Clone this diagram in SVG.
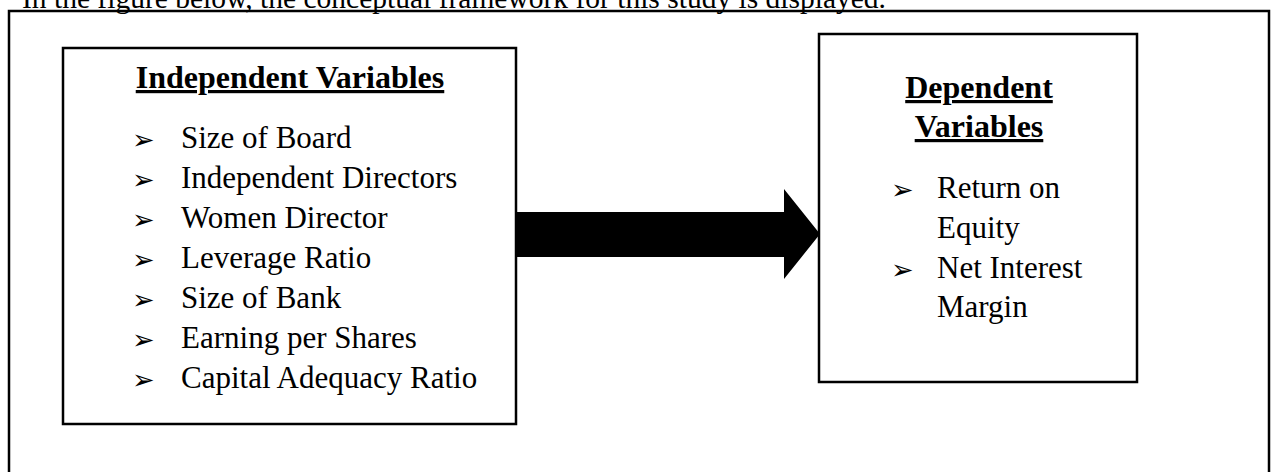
<svg xmlns="http://www.w3.org/2000/svg" width="1274" height="472" viewBox="0 0 1274 472">
  <style>
    .t { font-family: "Liberation Serif", "Times New Roman", serif; font-size: 31px; fill: #000; }
    .h { font-weight: bold; font-size: 32px; text-decoration: underline; text-anchor: middle; }
    .b { font-family: "DejaVu Sans", sans-serif; font-size: 27px; fill: #000; }
    .box { fill: #fff; stroke: #000; stroke-width: 2.5; }
  </style>
  <rect width="1274" height="472" fill="#fff"/>

  <!-- caption line above the frame, clipped at the top edge -->
  <text class="t" x="22" y="8" style="font-size:29.5px">In the figure below, the conceptual framework for this study is displayed.</text>

  <!-- outer frame, open past the bottom edge -->
  <rect x="9" y="11" width="1260" height="480" fill="none" stroke="#000" stroke-width="2.5"/>

  <g id="independent">
    <rect class="box" x="63" y="48" width="453" height="376"/>
    <text class="t h" x="290" y="88">Independent Variables</text>
    <text class="b" x="132" y="149">➢</text>
    <text class="t" x="181" y="148">Size of Board</text>
    <text class="b" x="132" y="189">➢</text>
    <text class="t" x="181" y="188">Independent Directors</text>
    <text class="b" x="132" y="229">➢</text>
    <text class="t" x="181" y="228">Women Director</text>
    <text class="b" x="132" y="269">➢</text>
    <text class="t" x="181" y="268">Leverage Ratio</text>
    <text class="b" x="132" y="309">➢</text>
    <text class="t" x="181" y="308">Size of Bank</text>
    <text class="b" x="132" y="349">➢</text>
    <text class="t" x="181" y="348">Earning per Shares</text>
    <text class="b" x="132" y="389">➢</text>
    <text class="t" x="181" y="388">Capital Adequacy Ratio</text>
  </g>

  <g id="dependent">
    <rect class="box" x="819" y="34" width="318" height="348"/>
    <text class="t h" x="979" y="98">Dependent</text>
    <text class="t h" x="979" y="137">Variables</text>
    <text class="b" x="891" y="199">➢</text>
    <text class="t" x="937" y="198">Return on</text>
    <text class="t" x="937" y="238">Equity</text>
    <text class="b" x="891" y="279">➢</text>
    <text class="t" x="937" y="278">Net Interest</text>
    <text class="t" x="937" y="317">Margin</text>
  </g>

  <g id="connectors">
    <polygon points="516,212 784,212 784,189 820,234 784,279 784,257 516,257" fill="#000"/>
  </g>
</svg>
